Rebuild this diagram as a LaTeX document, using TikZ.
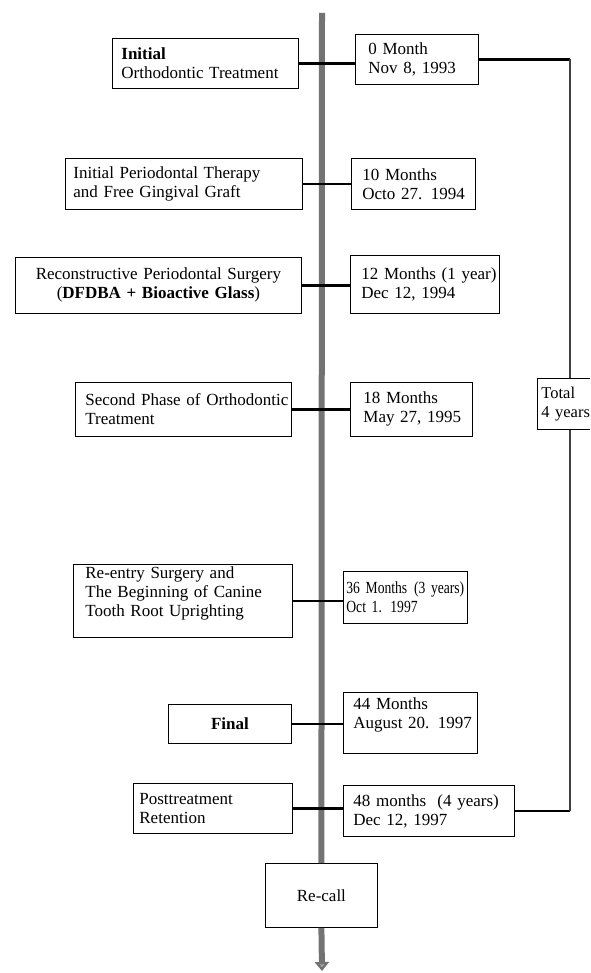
\documentclass[tikz,border=0pt]{standalone}
\usepackage{fontspec}
\setmainfont{Liberation Serif}
\newfontfamily\narrowserif[FakeStretch=0.8]{Liberation Serif}
\usetikzlibrary{arrows.meta}
\begin{document}
\begin{tikzpicture}[x=1pt,y=-1pt,
  every node/.style={font=\fontsize{17}{19}\selectfont},
  box/.style={draw=black,line width=0.8pt,anchor=north west,inner xsep=0pt,inner ysep=2pt},
  conn/.style={draw=black,line width=2.6pt},
  spine/.style={draw=black!55,line width=6pt},
  side/.style={draw=black!75,line width=1.3pt}]
\useasboundingbox (0,0) rectangle (590,973);
\begin{scope}
\clip (0,0) rectangle (590,973);
% #1 name, #2 x, #3 y, #4 width, #5 height, #6 align, #7 left padding, #8 text
\newcommand{\tlbox}[8]{\node[box,minimum width=#4pt,minimum height=#5pt,text width={#4pt-2*#7pt},align=#6] (#1) at (#2,#3) {#8};}
\tlbox{L1}{112}{38}{186}{50}{left}{9}{\textbf{Initial}\\Orthodontic Treatment}
\tlbox{R1}{355}{34}{123}{50}{left}{13}{0 Month\\Nov 8, 1993}
\tlbox{L2}{65}{158}{237}{51}{left}{8}{Initial Periodontal Therapy\\and Free Gingival Graft}
\tlbox{R2}{351}{158}{124}{51}{left}{11}{10 Months\\\mbox{Octo 27. 1994}}
\tlbox{L3}{15}{257}{286}{56}{center}{5}{Reconstructive Periodontal Surgery\\(\textbf{DFDBA + Bioactive Glass})}
\tlbox{R3}{350}{255}{149}{58}{left}{11}{\mbox{12 Months (1 year)}\\Dec 12, 1994}
\tlbox{L4}{75}{382}{216}{54}{left}{10}{\mbox{Second Phase of Orthodontic}\\Treatment}
\tlbox{R4}{350}{382}{122}{54}{left}{13}{18 Months\\\mbox{May 27, 1995}}
\node[box,minimum width=70pt,minimum height=51pt,text width=62pt,align=left,font=\fontsize{16.5}{19}\selectfont] (T) at (537,378) {Total\\4 years};
\tlbox{L5}{73}{564}{219}{73}{left}{12}{Re-entry Surgery and\\The Beginning of Canine\\Tooth Root Uprighting\\\mbox{}}
\tlbox{R5}{343}{571}{124}{52}{left}{3}{\narrowserif\mbox{36 Months\hspace{0.4em}(3 years)}\\Oct 1. 1997}
\tlbox{L6}{168}{704}{123}{39}{center}{5}{\textbf{Final}}
\tlbox{R6}{343}{692}{134}{61}{left}{10}{44 Months\\\mbox{August 20. 1997}\\\mbox{}}
\tlbox{L7}{133}{783}{159}{50}{left}{6}{Posttreatment\\Retention}
\tlbox{R7}{343}{785}{171}{51}{left}{10}{\mbox{48 months\ \ (4 years)}\\Dec 12, 1997}
\tlbox{RC}{265}{863}{112}{64}{center}{5}{Re-call}
% spine
\coordinate (top) at (322,13);
\coordinate (tip) at (322,971);
\draw[spine] (top) -- (RC.north);
\draw[spine,-{Triangle[width=14pt,length=9pt,fill=black!35]}] (RC.south) -- (tip);
% connectors
\foreach \n in {1,2,3,4,5,6,7} {\draw[conn] (L\n.east) -- (L\n.east -| R\n.west);}
% side bracket
\coordinate (c1) at (570,0 |- R1.east);
\coordinate (c7) at (570,0 |- R7.east);
\draw[conn] (R1.east) -- (c1);
\draw[conn] (R7.east) -- (c7);
\draw[side] (c1) -- (c1 |- T.north);
\draw[side] (c7) -- (c7 |- T.south);
\end{scope}
\end{tikzpicture}
\end{document}
